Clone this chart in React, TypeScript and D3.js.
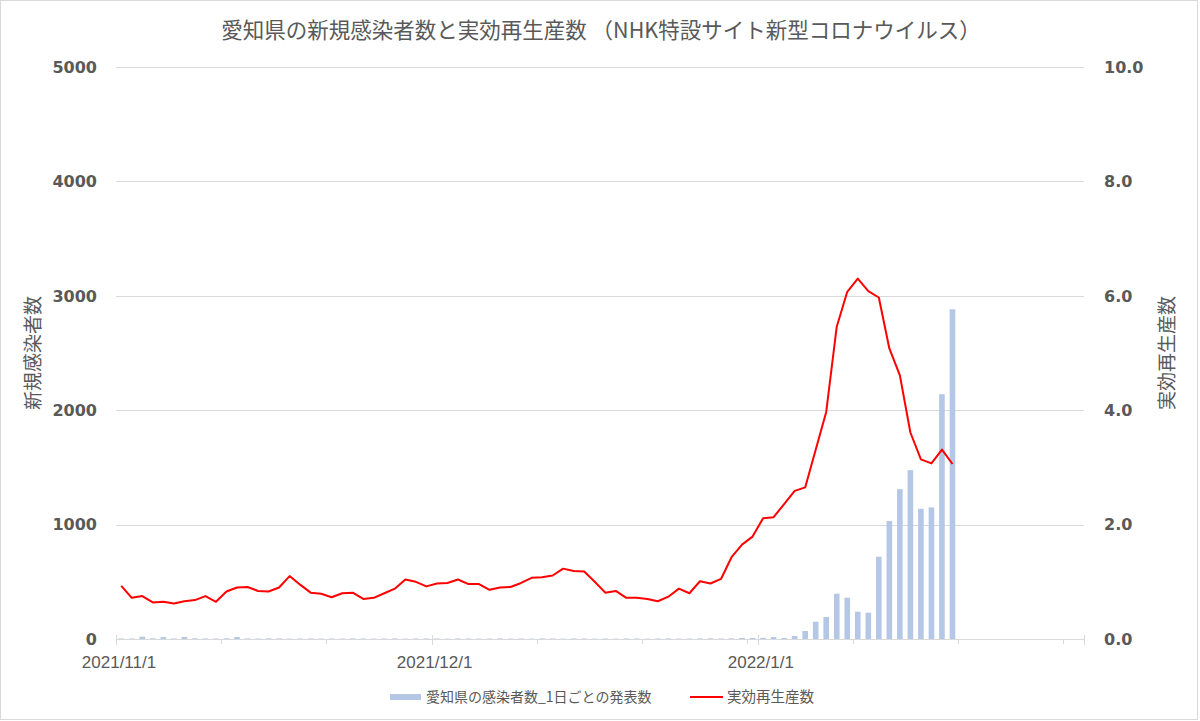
import * as React from "react";
import * as d3 from "d3";

// 2021/11/1 から 2022/1/19 までの日次データ
const startDate = "2021-11-01";
const endDate = "2022-02-01";

const newCases = [
  5, 4, 20, 6, 16, 5, 18, 6, 5, 4,
  6, 17, 5, 4, 6, 5, 3, 4, 5, 3,
  4, 3, 5, 4, 3, 4, 5, 3, 4, 5,
  4, 3, 5, 4, 3, 4, 5, 3, 4, 3,
  5, 4, 3, 5, 4, 3, 4, 3, 5, 4,
  3, 4, 5, 3, 4, 5, 6, 4, 6, 9,
  9, 10, 17, 9, 26, 70, 151, 192, 396, 361,
  239, 230, 719, 1031, 1310, 1476, 1138, 1150, 2140, 2882,
];

const rtValues = [
  0.93, 0.72, 0.75, 0.64, 0.65, 0.62, 0.66, 0.68, 0.75, 0.65,
  0.83, 0.90, 0.91, 0.84, 0.83, 0.90, 1.10, 0.95, 0.81, 0.79,
  0.73, 0.80, 0.81, 0.70, 0.72, 0.80, 0.88, 1.04, 1.00, 0.92,
  0.97, 0.98, 1.04, 0.96, 0.96, 0.86, 0.90, 0.91, 0.98, 1.07,
  1.08, 1.11, 1.23, 1.19, 1.18, 1.00, 0.81, 0.84, 0.72, 0.72,
  0.70, 0.66, 0.74, 0.88, 0.80, 1.01, 0.97, 1.05, 1.43, 1.65,
  1.79, 2.11, 2.13, 2.36, 2.59, 2.65, 3.31, 3.97, 5.46, 6.07,
  6.30, 6.08, 5.97, 5.08, 4.61, 3.61, 3.14, 3.07, 3.31, 3.06,
];

const leftTicks = [0, 1000, 2000, 3000, 4000, 5000];
const rightTicks = [0, 2, 4, 6, 8, 10];
const dateLabels = ["2021/11/1", "2021/12/1", "2022/1/1"];

const title = "愛知県の新規感染者数と実効再生産数 （NHK特設サイト新型コロナウイルス）";
const leftTitle = "新規感染者数";
const rightTitle = "実効再生産数";
const barLegend = "愛知県の感染者数_1日ごとの発表数";
const lineLegend = "実効再生産数";

const W = 1200;
const H = 721;
const margin = { top: 67, right: 116, bottom: 82, left: 116 };
const gray = "#595959";
const gridColor = "#d9d9d9";
const cjk = "'Noto Sans CJK JP', 'Noto Sans', sans-serif";

function drawChart(svgEl: SVGSVGElement) {
  const svg = d3.select(svgEl);
  svg.selectAll("*").remove();

  const parse = d3.timeParse("%Y-%m-%d");
  const t0 = parse(startDate)!;
  const t1 = parse(endDate)!;
  const dates = newCases.map((_, i) => d3.timeHour.offset(d3.timeDay.offset(t0, i), 12));

  const x = d3.scaleTime().domain([t0, t1]).range([margin.left, W - margin.right]);
  const yL = d3.scaleLinear().domain([0, 5000]).range([H - margin.bottom, margin.top]);
  const yR = d3.scaleLinear().domain([0, 10]).range([H - margin.bottom, margin.top]);

  // outer frame
  svg.append("rect")
    .attr("x", 0.5).attr("y", 0.5)
    .attr("width", W - 3).attr("height", H - 2)
    .attr("fill", "#fff").attr("stroke", gridColor);

  // title
  svg.append("text")
    .attr("x", 601).attr("y", 38)
    .attr("text-anchor", "middle")
    .style("font-family", cjk).style("font-size", "21.5px")
    .attr("fill", gray)
    .text(title);

  // gridlines
  svg.append("g").selectAll("line")
    .data(leftTicks)
    .join("line")
    .attr("x1", margin.left).attr("x2", W - margin.right)
    .attr("y1", (d) => Math.round(yL(d)) + 0.5).attr("y2", (d) => Math.round(yL(d)) + 0.5)
    .attr("stroke", gridColor).attr("stroke-width", 1);

  // x ticks every 10 days + month starts
  const tickDates = d3.timeDay.range(t0, d3.timeDay.offset(t1, 1), 10);
  const majorDates = dateLabels.map((s) => d3.timeParse("%Y/%m/%d")(s)!);
  const xAxis = svg.append("g");
  xAxis.selectAll("line.minor")
    .data(tickDates)
    .join("line")
    .attr("class", "minor")
    .attr("x1", (d) => Math.round(x(d)) + 0.5).attr("x2", (d) => Math.round(x(d)) + 0.5)
    .attr("y1", yL(0)).attr("y2", yL(0) + 5)
    .attr("stroke", gridColor);
  xAxis.selectAll("line.major")
    .data([...majorDates, t1])
    .join("line")
    .attr("class", "major")
    .attr("x1", (d) => Math.round(x(d)) + 0.5).attr("x2", (d) => Math.round(x(d)) + 0.5)
    .attr("y1", yL(0) - 4).attr("y2", yL(0) + 6)
    .attr("stroke", gridColor);
  xAxis.selectAll("text")
    .data(majorDates)
    .join("text")
    .attr("x", (d) => x(d) + 3)
    .attr("y", 668)
    .attr("text-anchor", "middle")
    .style("font-family", "'Liberation Sans', Arial, sans-serif").style("font-size", "17px")
    .attr("fill", gray)
    .text((_, i) => dateLabels[i]);

  // bars
  const barW = 5.6;
  svg.append("g").selectAll("rect")
    .data(newCases)
    .join("rect")
    .attr("x", (_, i) => x(dates[i]) - barW / 2)
    .attr("y", (d) => yL(d))
    .attr("width", barW)
    .attr("height", (d) => yL(0) - yL(d))
    .attr("fill", "#b4c7e7");

  // line
  const line = d3.line<number>()
    .x((_, i) => x(dates[i]))
    .y((d) => yR(d));
  svg.append("path")
    .datum(rtValues)
    .attr("d", line)
    .attr("fill", "none")
    .attr("stroke", "#ff0000")
    .attr("stroke-width", 2)
    .attr("stroke-linejoin", "round");

  // left axis labels
  svg.append("g").selectAll("text")
    .data(leftTicks)
    .join("text")
    .attr("x", 97).attr("y", (d) => yL(d))
    .attr("dy", "0.36em")
    .attr("text-anchor", "end")
    .style("font-family", "'DejaVu Sans', sans-serif").style("font-size", "16px").style("font-weight", "bold")
    .attr("fill", gray)
    .text((d) => String(d));

  // right axis labels
  svg.append("g").selectAll("text")
    .data(rightTicks)
    .join("text")
    .attr("x", 1104).attr("y", (d) => yR(d))
    .attr("dy", "0.36em")
    .attr("text-anchor", "start")
    .style("font-family", "'DejaVu Sans', sans-serif").style("font-size", "16px").style("font-weight", "bold")
    .attr("fill", gray)
    .text((d) => d.toFixed(1));

  const midY = (margin.top + H - margin.bottom) / 2;
  svg.append("text")
    .attr("transform", `translate(40, ${midY}) rotate(-90)`)
    .attr("text-anchor", "middle")
    .style("font-family", cjk).style("font-size", "19px")
    .attr("fill", gray)
    .text(leftTitle);
  svg.append("text")
    .attr("transform", `translate(1174, ${midY}) rotate(-90)`)
    .attr("text-anchor", "middle")
    .style("font-family", cjk).style("font-size", "19px")
    .attr("fill", gray)
    .text(rightTitle);

  // legend
  const lg = svg.append("g").attr("transform", "translate(0, 697)");
  lg.append("rect")
    .attr("x", 390).attr("y", -3).attr("width", 31).attr("height", 6)
    .attr("fill", "#b4c7e7");
  lg.append("text")
    .attr("x", 426).attr("y", 0).attr("dy", "0.36em")
    .style("font-family", cjk).style("font-size", "14px")
    .attr("fill", gray)
    .text(barLegend);
  lg.append("line")
    .attr("x1", 690).attr("x2", 723).attr("y1", 0).attr("y2", 0)
    .attr("stroke", "#ff0000").attr("stroke-width", 2);
  lg.append("text")
    .attr("x", 727).attr("y", 0).attr("dy", "0.36em")
    .style("font-family", cjk).style("font-size", "14.5px")
    .attr("fill", gray)
    .text(lineLegend);
}

const App: React.FunctionComponent = () => {
  const svg = React.useRef<SVGSVGElement>(null);
  React.useEffect(() => {
    if (svg.current) drawChart(svg.current);
  }, []);
  return (
    <svg
      ref={svg}
      width={W}
      height={H}
      style={{ position: "absolute", left: 0, top: 0, display: "block", background: "#fff" }}
    />
  );
};

export default App;
